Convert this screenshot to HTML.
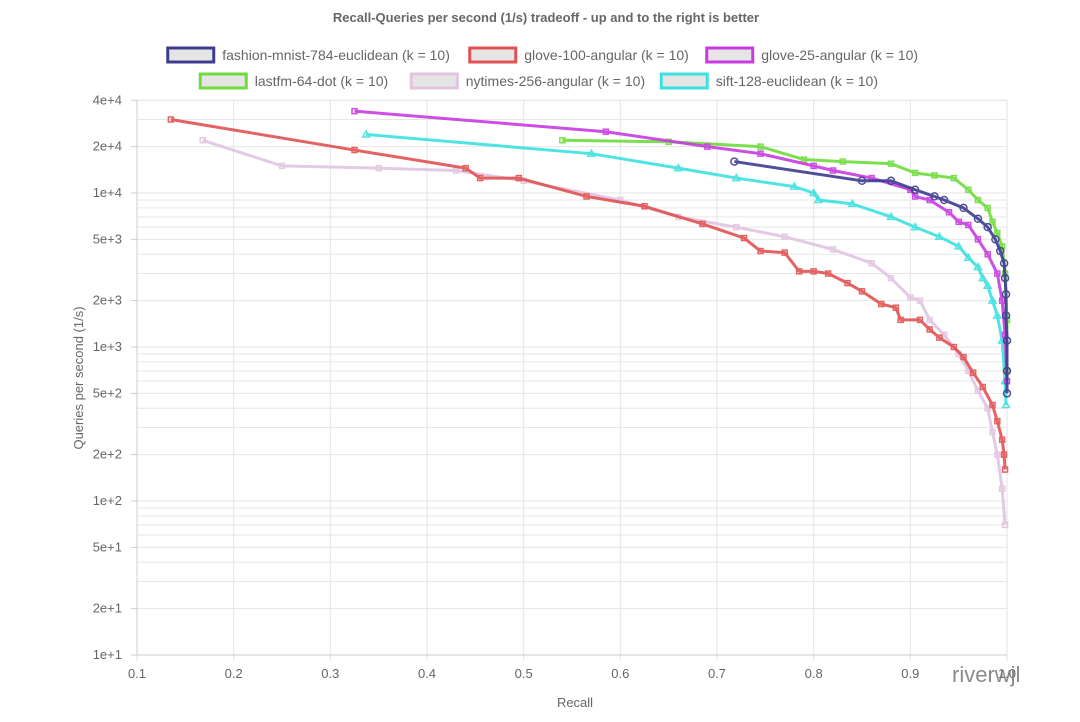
<!DOCTYPE html>
<html><head><meta charset="utf-8"><style>
body{margin:0;background:#fff;font-family:"Liberation Sans",sans-serif}
svg{display:block}
</style></head><body>
<svg id="c" width="1080" height="722" font-family="Liberation Sans, sans-serif">
<text x="546" y="22" text-anchor="middle" font-size="13" font-weight="bold" fill="#666">Recall-Queries per second (1/s) tradeoff - up and to the right is better</text>
<g id="grid"></g><g id="axes"></g><g id="series"></g><g id="legend"></g>
<text x="575" y="707" text-anchor="middle" font-size="13" fill="#666">Recall</text>
<text transform="translate(83,378) rotate(-90)" text-anchor="middle" font-size="13" fill="#666">Queries per second (1/s)</text>
<text x="952" y="682" font-size="22" fill="#777" opacity="0.85">riverwjl</text>
</svg>
<script>
const xTicks=[0.1,0.2,0.3,0.4,0.5,0.6,0.7,0.8,0.9,1.0];
const yTickLabels=["1e+1","2e+1","5e+1","1e+2","2e+2","5e+2","1e+3","2e+3","5e+3","1e+4","2e+4","4e+4"];
const yTickValues=[10,20,50,100,200,500,1000,2000,5000,10000,20000,40000];
const seriesNames=["fashion-mnist-784-euclidean (k = 10)","glove-100-angular (k = 10)","glove-25-angular (k = 10)","lastfm-64-dot (k = 10)","nytimes-256-angular (k = 10)","sift-128-euclidean (k = 10)"];
const seriesColors=["#3d3d8f","#e05252","#c83be0","#6edc3c","#e2c4e2","#3ce0e0"];
const fashionRecall=[0.718,0.85,0.88,0.905,0.925,0.935,0.955,0.97,0.98,0.988,0.993,0.997,0.998,0.999,0.999,1.0,1.0,1.0];
const fashionQps=[16000,12000,12000,10500,9500,9000,8000,6800,6000,5000,4200,3500,2800,2200,1600,1100,700,500];
const glove100Recall=[0.135,0.325,0.44,0.455,0.495,0.565,0.625,0.685,0.728,0.745,0.77,0.785,0.8,0.815,0.835,0.85,0.87,0.885,0.89,0.91,0.92,0.93,0.945,0.955,0.965,0.975,0.985,0.99,0.995,0.997,0.998];
const glove100Qps=[30000,19000,14500,12500,12500,9500,8200,6300,5100,4200,4100,3100,3100,3000,2600,2300,1900,1800,1500,1500,1300,1150,1000,860,680,550,420,330,250,200,160];
const glove25Recall=[0.325,0.585,0.69,0.745,0.8,0.82,0.86,0.9,0.905,0.92,0.94,0.95,0.96,0.97,0.98,0.99,0.995,0.998,1.0];
const glove25Qps=[34000,25000,20000,18000,15000,14000,12500,10500,9500,9000,7500,6500,6200,5000,4000,3000,2000,1200,600];
const lastfmRecall=[0.54,0.65,0.745,0.79,0.83,0.88,0.905,0.925,0.945,0.96,0.97,0.98,0.985,0.99,0.995,0.998,1.0,1.0];
const lastfmQps=[22000,21500,20000,16500,16000,15500,13500,13000,12500,10500,9000,8000,6500,5500,4500,3000,1500,700];
const nytimesRecall=[0.168,0.25,0.35,0.43,0.5,0.6,0.66,0.72,0.77,0.82,0.86,0.88,0.9,0.91,0.92,0.935,0.95,0.96,0.97,0.98,0.985,0.99,0.995,0.998];
const nytimesQps=[22000,15000,14500,14000,12000,9000,7000,6000,5200,4300,3500,2800,2100,2000,1500,1200,900,700,520,400,280,200,120,70];
const siftRecall=[0.337,0.57,0.66,0.72,0.78,0.8,0.805,0.84,0.88,0.905,0.93,0.95,0.96,0.97,0.975,0.98,0.985,0.99,0.995,0.998,0.999];
const siftQps=[24000,18000,14500,12500,11000,10000,9000,8500,7000,6000,5200,4500,3800,3300,2800,2500,2000,1600,1100,600,420];

const NS="http://www.w3.org/2000/svg";
const X0=137,X1=1007,Y0=655,DEC=154;
function xs(r){return X0+(r-0.1)/0.9*(X1-X0);}
function ys(q){return Y0-Math.log10(q/10)*DEC;}
function mk(tag,attrs,parent){const e=document.createElementNS(NS,tag);for(const k in attrs)e.setAttribute(k,attrs[k]);parent.appendChild(e);return e;}
const grid=document.getElementById('grid'),axes=document.getElementById('axes'),ser=document.getElementById('series'),leg=document.getElementById('legend');
const yTop=ys(40000);
xTicks.forEach(t=>{const l=mk('line',{x1:xs(t),x2:xs(t),y1:yTop,y2:Y0+6,stroke:'#e3e3e3'},grid);


const tx=mk('text',{x:xs(t),y:Y0+23,'text-anchor':'middle','font-size':13,fill:'#666'},axes);tx.textContent=String(t===1?'1.0':t);

});
for(let d=10;d<=10000;d*=10){for(let m=1;m<=9;m++){const v=d*m;if(v>40000)break;
const l=mk('line',{x1:X0,x2:X1,y1:ys(v),y2:ys(v),stroke:'#e6e6e6'},grid);

}}
mk('line',{x1:X0,x2:X1,y1:yTop,y2:yTop,stroke:'#e6e6e6'},grid);
mk('line',{x1:X0,x2:X0,y1:yTop,y2:Y0,stroke:'#ccc'},axes);
mk('line',{x1:X0,x2:X1,y1:Y0,y2:Y0,stroke:'#ccc'},axes);
yTickValues.forEach((v,i)=>{mk('line',{x1:X0-6,x2:X0,y1:ys(v),y2:ys(v),stroke:'#ccc'},axes);
const tx=mk('text',{x:X0-15,y:ys(v)+4,'text-anchor':'end','font-size':13,fill:'#666'},axes);tx.textContent=yTickLabels[i];

});
const data=[[fashionRecall,fashionQps],[glove100Recall,glove100Qps],[glove25Recall,glove25Qps],[lastfmRecall,lastfmQps],[nytimesRecall,nytimesQps],[siftRecall,siftQps]];
const order=[4,1,5,3,2,0];
order.forEach(i=>{const [r,q]=data[i];const g=mk('g',{opacity:0.9},ser);


mk('polyline',{points:r.map((v,j)=>xs(v)+','+ys(q[j])).join(' '),fill:'none',stroke:seriesColors[i],'stroke-width':3,'stroke-linejoin':'round'},g);
r.forEach((v,j)=>{let p;
if(i===0)p=mk('circle',{cx:xs(v),cy:ys(q[j]),r:3.5,fill:'none',stroke:seriesColors[i],'stroke-width':1.5},g);
else if(i===5)p=mk('path',{d:`M${xs(v)},${ys(q[j])-3.5}l3.5,6h-7z`,fill:'none',stroke:seriesColors[i],'stroke-width':1.5},g);
else p=mk('rect',{x:xs(v)-2.5,y:ys(q[j])-2.5,width:5,height:5,fill:'none',stroke:seriesColors[i],'stroke-width':1.5},g);

});});
const rows=[[0,1,2],[3,4,5]];
rows.forEach((row,ri)=>{const widths=row.map(i=>seriesNames[i].length*6.5+68);const tot=widths.reduce((a,b)=>a+b,0)-10;
let x=546-tot/2;const y=ri===0?55:81;
row.forEach((i,k)=>{const g=mk('g',{},leg);


mk('rect',{x:x+1.5,y:y-7,width:46,height:14,fill:'#e5e5e5',stroke:seriesColors[i],'stroke-width':3},g);
const t=mk('text',{x:x+56,y:y+5,'font-size':14,fill:'#666'},g);t.textContent=seriesNames[i];
x+=widths[k];});});
</script>
</body></html>
